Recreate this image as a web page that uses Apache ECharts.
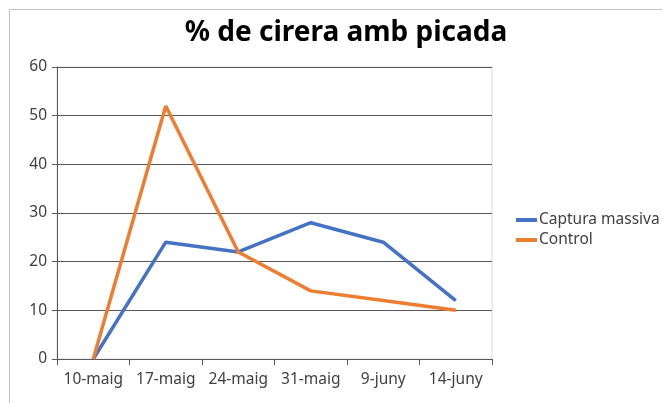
<!DOCTYPE html>
<html>
<head>
<meta charset="utf-8">
<script src="https://cdn.jsdelivr.net/npm/echarts@6/dist/echarts.min.js"></script>
<style>
  html, body { margin: 0; padding: 0; background: #fff; }
  #chart { width: 662px; height: 403px; }
</style>
</head>
<body>
<div id="chart"></div>
<script>
// dades llegides del gràfic
var dates = ['10-maig', '17-maig', '24-maig', '31-maig', '9-juny', '14-juny'];
var capturaMassiva = [0, 24, 22, 28, 24, 12];
var control = [0, 52, 22, 14, 12, 10];
var yTicks = [0, 10, 20, 30, 40, 50, 60];

var myChart = echarts.init(document.getElementById('chart'));
var font = 'Noto Sans';

var option = {
    animation: false,
    title: {
        text: '% de cirera amb picada',
        left: 341,
        textAlign: 'center',
        top: 14,
        textStyle: { fontFamily: font, fontSize: 28, fontWeight: 'bold', color: '#000' }
    },
    graphic: [{
        type: 'rect',
        shape: { x: 9.5, y: 9.5, width: 700, height: 500 },
        style: { fill: 'none', stroke: '#c0c0c0', lineWidth: 1 },
        silent: true
    }],
    color: ['#4472C4', '#ED7D31'],
    legend: {
        orient: 'vertical',
        left: 511,
        top: 207,
        itemWidth: 21,
        itemHeight: 4,
        itemGap: 4,
        icon: 'rect',
        textStyle: { fontFamily: font, fontSize: 15.5, color: '#404040', padding: [0, 0, 0, -3] },
        data: ['Captura massiva', 'Control']
    },
    grid: {
        left: 57, right: 170, top: 67, bottom: 44,
        show: true, borderColor: '#d9d9d9', borderWidth: 1
    },
    xAxis: {
        type: 'category',
        data: dates,
        boundaryGap: true,
        axisLine: { lineStyle: { color: '#595959', width: 1 } },
        axisTick: { show: true, length: 6, alignWithLabel: false, lineStyle: { color: '#595959' } },
        axisLabel: { fontFamily: font, fontSize: 15.5, color: '#404040', margin: 13, interval: 0 }
    },
    yAxis: {
        type: 'value',
        min: yTicks[0],
        max: yTicks[yTicks.length - 1],
        interval: 10,
        axisLine: { show: true, lineStyle: { color: '#595959', width: 1 } },
        axisTick: { show: true, length: 5, lineStyle: { color: '#595959' } },
        axisLabel: { fontFamily: font, fontSize: 15.5, color: '#404040', margin: 10 },
        splitLine: { lineStyle: { color: '#595959', width: 1 } }
    },
    series: [
        {
            name: 'Captura massiva',
            type: 'line',
            data: capturaMassiva,
            symbol: 'none',
            lineStyle: { width: 3.5 }
        },
        {
            name: 'Control',
            type: 'line',
            data: control,
            symbol: 'none',
            lineStyle: { width: 3.5 }
        }
    ]
};

myChart.setOption(option);
</script>
</body>
</html>
